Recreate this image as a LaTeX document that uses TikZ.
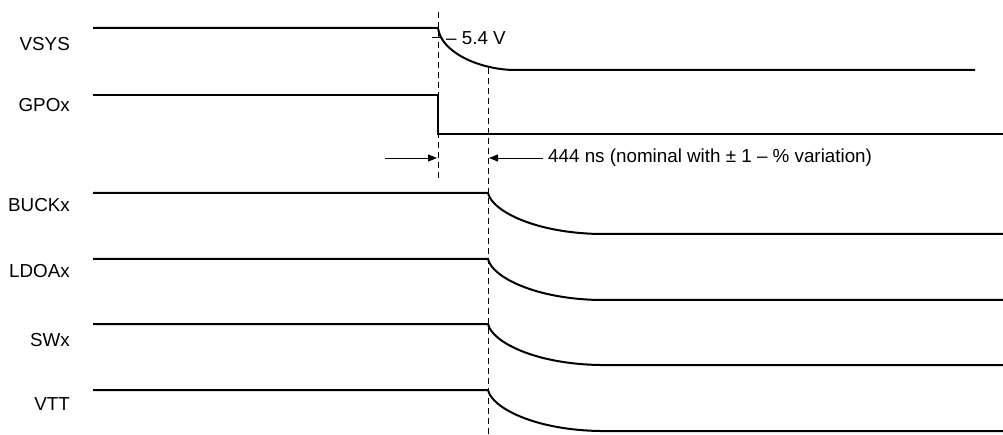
\documentclass[tikz,border=0pt]{standalone}
\usepackage{fontspec}
\setmainfont{Liberation Sans}
\usetikzlibrary{arrows.meta}
\begin{document}
\begin{tikzpicture}[x=1pt,y=-1pt,
  sig/.style={line width=2pt,line join=miter},
  guide/.style={line width=0.8pt,dash pattern=on 6pt off 4pt},
  dim/.style={line width=0.9pt,-{Triangle[length=9pt,width=7pt]}},
  lbl/.style={anchor=east,inner sep=0pt,font=\fontsize{18.8}{21}\selectfont},
  txt/.style={anchor=west,inner sep=0pt,font=\fontsize{18.8}{21}\selectfont}]
\useasboundingbox (0,0) rectangle (1003,435);
% labels
\node[lbl] (lvsys) at (70,44) {VSYS};
\node[lbl] (lgpo) at (70,105) {GPOx};
\node[lbl] (lbuck) at (70,205) {BUCKx};
\node[lbl] (lldo) at (70,271) {LDOAx};
\node[lbl] (lsw) at (70,340) {SWx};
\node[lbl] (lvtt) at (70,404) {VTT};
% guides
\coordinate (g1t) at (438,12);
\coordinate (g1b) at (438,178);
\coordinate (g2t) at (488,68);
\coordinate (g2b) at (488,435);
\draw[guide] (g1t) -- (g1b);
\draw[guide] (g2t) -- (g2b);
% VSYS
\coordinate (v0) at (93,28);
\coordinate (v1) at (438,28);
\coordinate (v2) at (513,70);
\coordinate (v3) at (975,70);
\draw[sig] (v0) -- (v1) .. controls (441,52) and (478,69) .. (v2) -- (v3);
\coordinate (t0) at (432,37);
\coordinate (t1) at (442,37);
\draw[line width=0.8pt] (t0) -- (t1);
\node[txt] (v54) at (446,38) {– 5.4 V};
% GPOx
\coordinate (p0) at (93,95);
\coordinate (p1) at (438,95);
\coordinate (p2) at (438,134);
\coordinate (p3) at (1003,134);
\draw[sig] (p0) -- (p1) -- (p2) -- (p3);
% timing arrows
\coordinate (a0) at (385,158);
\coordinate (a1) at (437,158);
\coordinate (b0) at (543,158);
\coordinate (b1) at (489,158);
\draw[dim] (a0) -- (a1);
\draw[dim] (b0) -- (b1);
\node[txt] (tns) at (548,158) {444 ns (nominal with ± 1 – \% variation)};
% rails
\foreach \n/\y in {buck/193,ldo/259,sw/324,vtt/390}{
  \coordinate (\n0) at (93,\y);
  \coordinate (\n1) at (488,\y);
  \coordinate (\n2) at (600,\y+41);
  \coordinate (\n3) at (1003,\y+41);
  \draw[sig] (\n0) -- (\n1) .. controls (492,\y+18) and (535,\y+40) .. (\n2) -- (\n3);
}
\end{tikzpicture}
\end{document}
